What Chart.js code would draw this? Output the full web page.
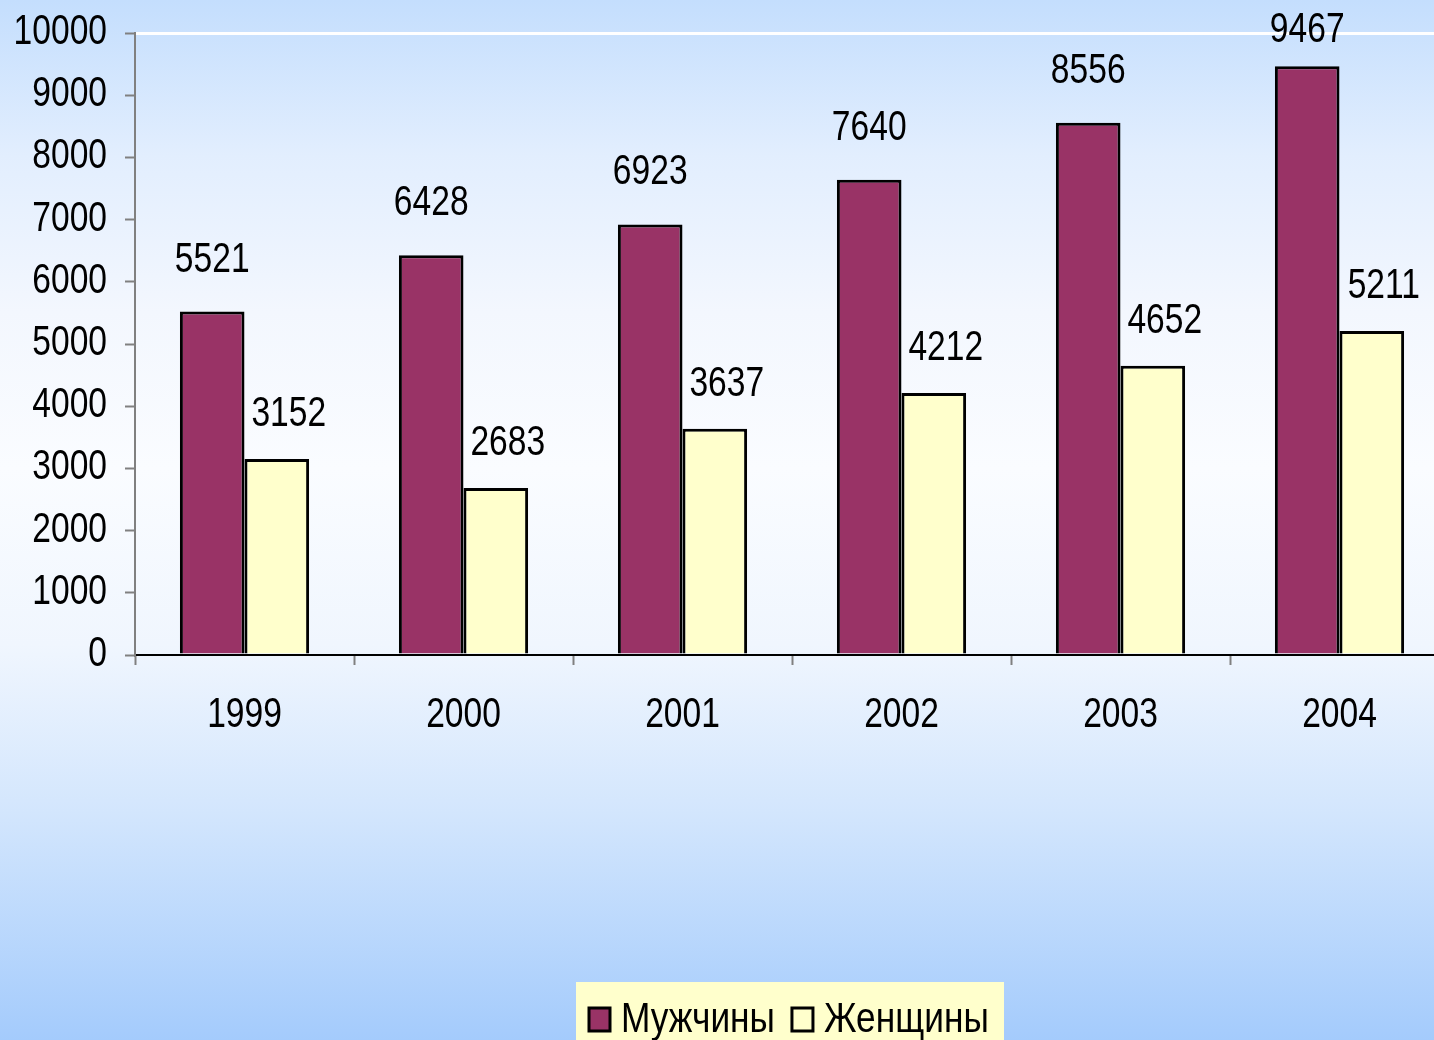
<!DOCTYPE html>
<html>
<head>
<meta charset="utf-8">
<script src="https://cdn.jsdelivr.net/npm/chart.js@4.4.1/dist/chart.umd.min.js"></script>
<style>
  html, body { margin: 0; padding: 0; overflow: hidden; }
  body {
    width: 1434px;
    height: 1040px;
    background: linear-gradient(to bottom,
      #c4defd 0%, #e2eefe 15%, #f3f7fe 30%, #fafcff 45%,
      #f0f6fe 62%, #d3e6fd 78%, #a4cbfc 100%);
  }
  #wrap { width: 1460px; height: 1040px; }
</style>
</head>
<body>
<div id="wrap"><canvas id="chart" width="1460" height="1040"></canvas></div>
<script>
const years = ['1999', '2000', '2001', '2002', '2003', '2004'];
const menValues = [5521, 6428, 6923, 7640, 8556, 9467];
const womenValues = [3152, 2683, 3637, 4212, 4652, 5211];
const seriesNames = ['Мужчины', 'Женщины'];
const seriesColors = ['#993366', '#ffffcc'];

const FONT = "'Liberation Sans', Arial, sans-serif";
Chart.defaults.font.family = FONT;
Chart.defaults.color = '#000';

// Узкий шрифт (как Arial Narrow) — сжимаем текст по горизонтали
function drawNarrow(ctx, text, x, y, align, squeeze) {
  ctx.save();
  ctx.translate(x, y);
  ctx.scale(squeeze || 0.8, 1);
  ctx.textAlign = align;
  ctx.textBaseline = 'alphabetic';
  ctx.fillText(text, 0, 0);
  ctx.restore();
}

// Подписи осей
const narrowTicks = {
  id: 'narrowTicks',
  afterDraw(chart) {
    const ctx = chart.ctx;
    const xs = chart.scales.x;
    const ys = chart.scales.y;
    ctx.save();
    ctx.fillStyle = '#000';
    ctx.font = '42px ' + FONT;
    ys.ticks.forEach((t, i) => {
      drawNarrow(ctx, String(t.value), ys.right - 28, ys.getPixelForTick(i) + 11, 'right');
    });
    xs.ticks.forEach((t, i) => {
      drawNarrow(ctx, String(xs.getLabelForValue(t.value)), xs.getPixelForTick(i), xs.top + 72, 'center');
    });
    ctx.restore();
  }
};

// Подписи значений над столбцами
const valueLabels = {
  id: 'valueLabels',
  afterDatasetsDraw(chart) {
    const ctx = chart.ctx;
    const shift = [0, 12];
    const gap = [40, 33];
    ctx.save();
    ctx.font = '42px ' + FONT;
    ctx.fillStyle = '#000';
    chart.data.datasets.forEach((ds, i) => {
      chart.getDatasetMeta(i).data.forEach((bar, j) => {
        const y = Math.max(bar.y - gap[i], 42);
        drawNarrow(ctx, String(ds.data[j]), bar.x + shift[i], y, 'center');
      });
    });
    ctx.restore();
  }
};

// Легенда на жёлтой подложке
const yellowLegend = {
  id: 'yellowLegend',
  afterDraw(chart) {
    const ctx = chart.ctx;
    const squeeze = 0.84;
    ctx.save();
    ctx.fillStyle = '#ffffcc';
    ctx.fillRect(576, 982, 428, 70);
    ctx.font = '42px ' + FONT;
    let x = 589;
    chart.data.datasets.forEach((ds) => {
      ctx.fillStyle = ds.backgroundColor;
      ctx.fillRect(x, 1008, 21, 23);
      ctx.lineWidth = 3;
      ctx.strokeStyle = '#000';
      ctx.strokeRect(x, 1008, 21, 23);
      ctx.fillStyle = '#000';
      drawNarrow(ctx, ds.label, x + 32, 1032, 'left', squeeze);
      x += 32 + ctx.measureText(ds.label).width * squeeze + 17;
    });
    ctx.restore();
  }
};

new Chart(document.getElementById('chart'), {
  type: 'bar',
  data: {
    labels: years,
    datasets: [
      { label: seriesNames[0], data: menValues, backgroundColor: seriesColors[0],
        borderColor: '#000', borderWidth: 3 },
      { label: seriesNames[1], data: womenValues, backgroundColor: seriesColors[1],
        borderColor: '#000', borderWidth: 3 }
    ]
  },
  options: {
    responsive: false,
    animation: false,
    layout: { padding: { top: 33, right: 11, left: 0, bottom: 0 } },
    datasets: { bar: { barPercentage: 1, categoryPercentage: 0.59 } },
    plugins: { legend: { display: false }, tooltip: { enabled: false } },
    scales: {
      x: {
        grid: { offset: true, drawOnChartArea: false, tickLength: 10,
                tickColor: '#808080', tickWidth: 2 },
        border: { color: '#000', width: 2 },
        ticks: { display: false },
        afterFit: (s) => { s.height = 1040 - 655; }
      },
      y: {
        min: 0,
        max: 10000,
        ticks: { display: false, stepSize: 1000 },
        grid: {
          color: (c) => (c.tick && c.tick.value === 10000 ? '#ffffff' : 'rgba(0,0,0,0)'),
          lineWidth: 3,
          tickColor: '#808080',
          tickWidth: 2,
          tickLength: 10
        },
        border: { color: '#808080', width: 2 },
        afterFit: (s) => { s.width = 135; }
      }
    }
  },
  plugins: [valueLabels, narrowTicks, yellowLegend]
});
</script>
</body>
</html>
